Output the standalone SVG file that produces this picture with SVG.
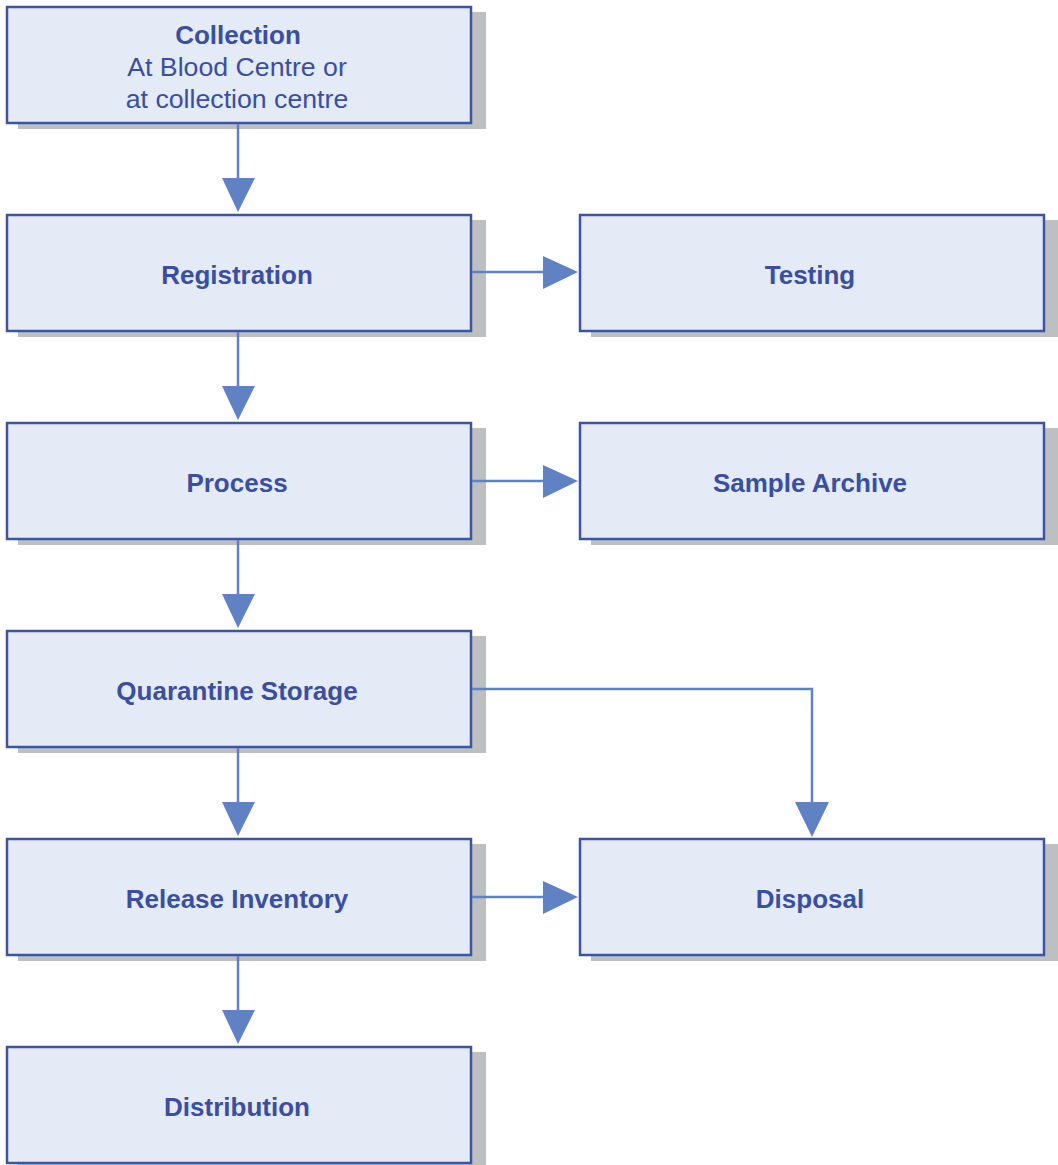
<svg xmlns="http://www.w3.org/2000/svg" width="1058" height="1165" viewBox="0 0 1058 1165">
<style>
.shadow{fill:#bebfc1}
.box{fill:#e4eaf6;stroke:#3a55a8;stroke-width:2.5}
.t{font-family:"Liberation Sans",Arial,sans-serif;font-size:26px;fill:#3a4fa0;text-anchor:middle}
.r{font-size:26.7px}
.b{font-weight:bold}
.c{fill:none;stroke:#5f82c4;stroke-width:2.5}
.h{fill:#5f82c4}
</style>
<rect width="1058" height="1165" fill="#ffffff"/>
<g id="collection"><rect class="shadow" x="18" y="12" width="468" height="117"/><rect class="box" x="7" y="7" width="464" height="116"/>
<text class="t b" x="238" y="44">Collection</text><text class="t r" x="237" y="76">At Blood Centre or</text><text class="t r" x="237" y="108">at collection centre</text></g>
<g id="registration"><rect class="shadow" x="18" y="220" width="468" height="117"/><rect class="box" x="7" y="215" width="464" height="116"/><text class="t b" x="237" y="284">Registration</text></g>
<g id="testing"><rect class="shadow" x="591" y="220" width="467" height="117"/><rect class="box" x="580" y="215" width="464" height="116"/><text class="t b" x="810" y="284">Testing</text></g>
<g id="process"><rect class="shadow" x="18" y="428" width="468" height="117"/><rect class="box" x="7" y="423" width="464" height="116"/><text class="t b" x="237" y="492">Process</text></g>
<g id="sample-archive"><rect class="shadow" x="591" y="428" width="467" height="117"/><rect class="box" x="580" y="423" width="464" height="116"/><text class="t b" x="810" y="492">Sample Archive</text></g>
<g id="quarantine"><rect class="shadow" x="18" y="636" width="468" height="117"/><rect class="box" x="7" y="631" width="464" height="116"/><text class="t b" x="237" y="700">Quarantine Storage</text></g>
<g id="release"><rect class="shadow" x="18" y="844" width="468" height="117"/><rect class="box" x="7" y="839" width="464" height="116"/><text class="t b" x="237" y="908">Release Inventory</text></g>
<g id="disposal"><rect class="shadow" x="591" y="844" width="467" height="117"/><rect class="box" x="580" y="839" width="464" height="116"/><text class="t b" x="810" y="908">Disposal</text></g>
<g id="distribution"><rect class="shadow" x="18" y="1052" width="468" height="113"/><rect class="box" x="7" y="1047" width="464" height="116"/><text class="t b" x="237" y="1116">Distribution</text></g>
<g id="connectors">
<line class="c" x1="238" y1="124" x2="238" y2="180"/><polygon class="h" points="222,178 255,178 238,212"/>
<line class="c" x1="238" y1="332" x2="238" y2="388"/><polygon class="h" points="222,386 255,386 238,420"/>
<line class="c" x1="238" y1="540" x2="238" y2="596"/><polygon class="h" points="222,594 255,594 238,628"/>
<line class="c" x1="238" y1="748" x2="238" y2="804"/><polygon class="h" points="222,802 255,802 238,836"/>
<line class="c" x1="238" y1="956" x2="238" y2="1012"/><polygon class="h" points="222,1010 255,1010 238,1044"/>
<line class="c" x1="472" y1="272" x2="545" y2="272"/><polygon class="h" points="543,256 543,289 578,272"/>
<line class="c" x1="472" y1="481" x2="545" y2="481"/><polygon class="h" points="543,465 543,498 578,481"/>
<line class="c" x1="472" y1="897" x2="545" y2="897"/><polygon class="h" points="543,881 543,914 578,897"/>
<polyline class="c" points="472,689 812,689 812,804"/><polygon class="h" points="795,802 829,802 812,837"/>
</g>
</svg>
